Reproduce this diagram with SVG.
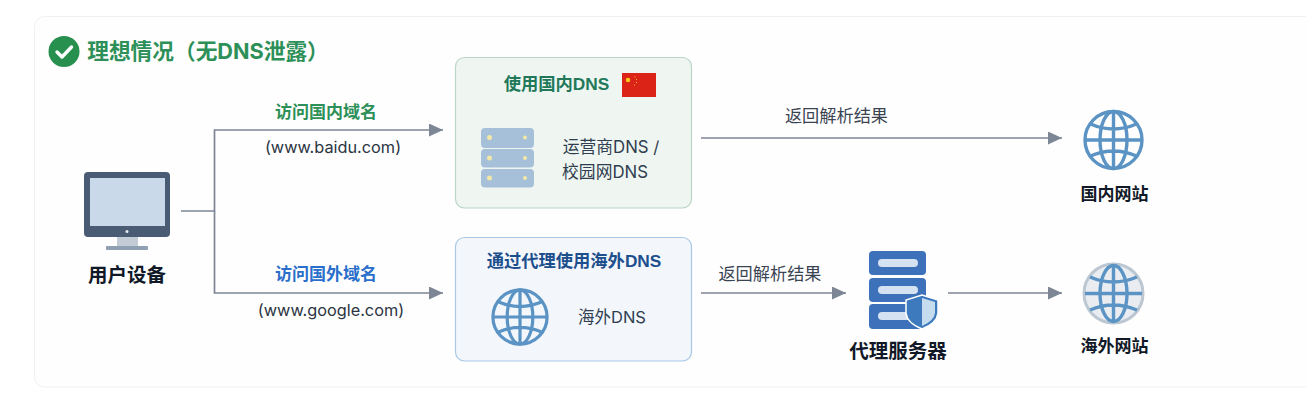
<svg xmlns="http://www.w3.org/2000/svg" width="1306" height="407" viewBox="0 0 1306 407">
<style>
text{font-family:"Liberation Sans","Noto Sans CJK SC",sans-serif;text-anchor:middle}
.cjk{font-family:"Inter","Noto Sans CJK SC",sans-serif}
.b{font-weight:700}
.lbl{font-size:17px;font-weight:700;fill:#111827}
.conn{fill:none;stroke:#7c8695;stroke-width:1.700}
.gl{fill:none;stroke:#5b94c4;stroke-width:3.400}
</style>
<defs>
<marker id="arr" markerUnits="userSpaceOnUse" markerWidth="15" markerHeight="14" refX="14" refY="6.500" orient="auto"><path d="M0 0L14 6.500L0 13Z" fill="#7c8695"/></marker>
<g id="globe">
<circle cx="0" cy="0" r="28.500" class="gl"/>
<ellipse cx="0" cy="0" rx="13.500" ry="28.500" class="gl"/>
<path d="M0-28.500V28.500M-28.500 0H28.500M-23-16Q0-6 23-16M-23 16Q0 6 23 16" class="gl"/>
</g>
</defs>
<rect width="1306" height="407" fill="#ffffff"/>
<rect x="34.500" y="16.500" width="1300" height="370.500" rx="10" fill="#fefefe" stroke="#f0f1f2"/>
<g id="title">
<circle cx="64" cy="51.500" r="15.500" fill="#27904f"/>
<path d="M57 52L62 57L71.500 47" fill="none" stroke="#fff" stroke-width="3.400" stroke-linecap="round" stroke-linejoin="round"/>
<text x="208" y="59" class="cjk b" font-size="21.700" fill="#2c9058">理想情况（无DNS泄露）</text>
</g>
<g id="connectors">
<path class="conn" d="M181 211H214.500V130H443" marker-end="url(#arr)"/>
<path class="conn" d="M214.500 211V293H443" marker-end="url(#arr)"/>
<path class="conn" d="M701 138H1062" marker-end="url(#arr)"/>
<path class="conn" d="M701 293H846" marker-end="url(#arr)"/>
<path class="conn" d="M948 293H1062" marker-end="url(#arr)"/>
<text x="326" y="118" class="b" font-size="17" fill="#2c9058">访问国内域名</text>
<text x="333" y="153" class="cjk" font-size="16.300" fill="#2b3442">(www.baidu.com)</text>
<text x="326" y="280" class="b" font-size="17" fill="#2a6fcb">访问国外域名</text>
<text x="331" y="316" class="cjk" font-size="16.300" fill="#2b3442">(www.google.com)</text>
<text x="836.500" y="122" class="cjk" font-size="17.200" fill="#3a4452">返回解析结果</text>
<text x="770" y="280" class="cjk" font-size="17.200" fill="#3a4452">返回解析结果</text>
</g>
<g id="user-device">
<rect x="84" y="172" width="86" height="65" rx="4" fill="#4a5c74"/>
<rect x="90" y="178" width="75" height="48" fill="#c9d9ea"/>
<circle cx="127" cy="231.500" r="1.500" fill="#e8edf2"/>
<path d="M117 237H138V246H117Z" fill="#c3ccd4"/>
<rect x="106" y="246" width="42" height="4" rx="1" fill="#8ea0b1"/>
<text x="127" y="282" class="lbl" style="font-size:19.500px">用户设备</text>
</g>
<g id="domestic-dns">
<rect x="455.500" y="57.500" width="236" height="150.500" rx="9" fill="#eff6f1" stroke="#b9d6c6" stroke-width="1.200"/>
<text x="556.500" y="90" class="b" font-size="17.300" fill="#22795a">使用国内DNS</text>
<rect x="622" y="73" width="34" height="24" fill="#dc2318"/>
<circle cx="628" cy="80" r="2.300" fill="#f8c51c"/>
<path d="M635 76.500v1M636.500 79v1M636.500 82v1M634.500 84.500v1" stroke="#f8c51c" stroke-width="1"/>
<rect x="481" y="128" width="53" height="20" rx="4" fill="#a6c0da"/>
<rect x="481" y="149" width="53" height="18.500" rx="4" fill="#a6c0da"/>
<rect x="481" y="169" width="53" height="18.500" rx="4" fill="#a6c0da"/>
<circle cx="489.500" cy="137.500" r="2.500" fill="#f2e7a6"/><circle cx="525" cy="137.500" r="2" fill="#f2e7a6"/>
<circle cx="489.500" cy="158" r="2.500" fill="#f2e7a6"/><circle cx="525" cy="158" r="2" fill="#f2e7a6"/>
<circle cx="489.500" cy="178" r="2.500" fill="#f2e7a6"/><circle cx="525" cy="178" r="2" fill="#f2e7a6"/>
<text x="611" y="153" class="cjk" font-size="16.800" fill="#2f3e50">运营商DNS /</text>
<text x="605" y="178" class="cjk" font-size="16.800" fill="#2f3e50">校园网DNS</text>
</g>
<g id="overseas-dns">
<rect x="455.500" y="237.500" width="236" height="123.500" rx="9" fill="#f3f7fc" stroke="#a9c8e6" stroke-width="1.200"/>
<text x="574" y="267" class="b" font-size="17.300" fill="#1d4f8c">通过代理使用海外DNS</text>
<use href="#globe" transform="translate(520 317) scale(0.95)"/>
<text x="612" y="323" class="cjk" font-size="16.500" fill="#2f3e50">海外DNS</text>
</g>
<g id="proxy-server">
<rect x="869" y="251" width="57" height="24" rx="4" fill="#3d72ba"/>
<rect x="869" y="278" width="57" height="24" rx="4" fill="#3d72ba"/>
<rect x="869" y="304" width="57" height="25" rx="4" fill="#3d72ba"/>
<rect x="878" y="259" width="40" height="8" rx="4" fill="#d5e2f1"/>
<rect x="878" y="286" width="40" height="8" rx="4" fill="#d5e2f1"/>
<rect x="878" y="312" width="40" height="8" rx="4" fill="#d5e2f1"/>
<path d="M922 295L938 300V313Q937 323 922 329Q907 323 906 313V300Z" fill="#3d79bd" stroke="#ffffff" stroke-width="1.500"/>
<path d="M922 298L935 302V313Q934 321 922 326Z" fill="#c5dbee"/>
<text x="898" y="358" class="lbl" style="font-size:19.500px">代理服务器</text>
</g>
<g id="cn-site">
<use href="#globe" x="1113.500" y="140"/>
<text x="1114.500" y="200" class="lbl">国内网站</text>
</g>
<g id="global-site">
<circle cx="1113.500" cy="293.500" r="29.500" fill="#e9edf2" stroke="#bcc7d2" stroke-width="3"/>
<ellipse cx="1113.500" cy="293.500" rx="13.500" ry="28" class="gl"/>
<path d="M1113.500 265V322M1085 293.500H1142M1090 277Q1113 287 1137 277M1090 310Q1113 300 1137 310" class="gl"/>
<text x="1114.500" y="352" class="lbl">海外网站</text>
</g>
</svg>
